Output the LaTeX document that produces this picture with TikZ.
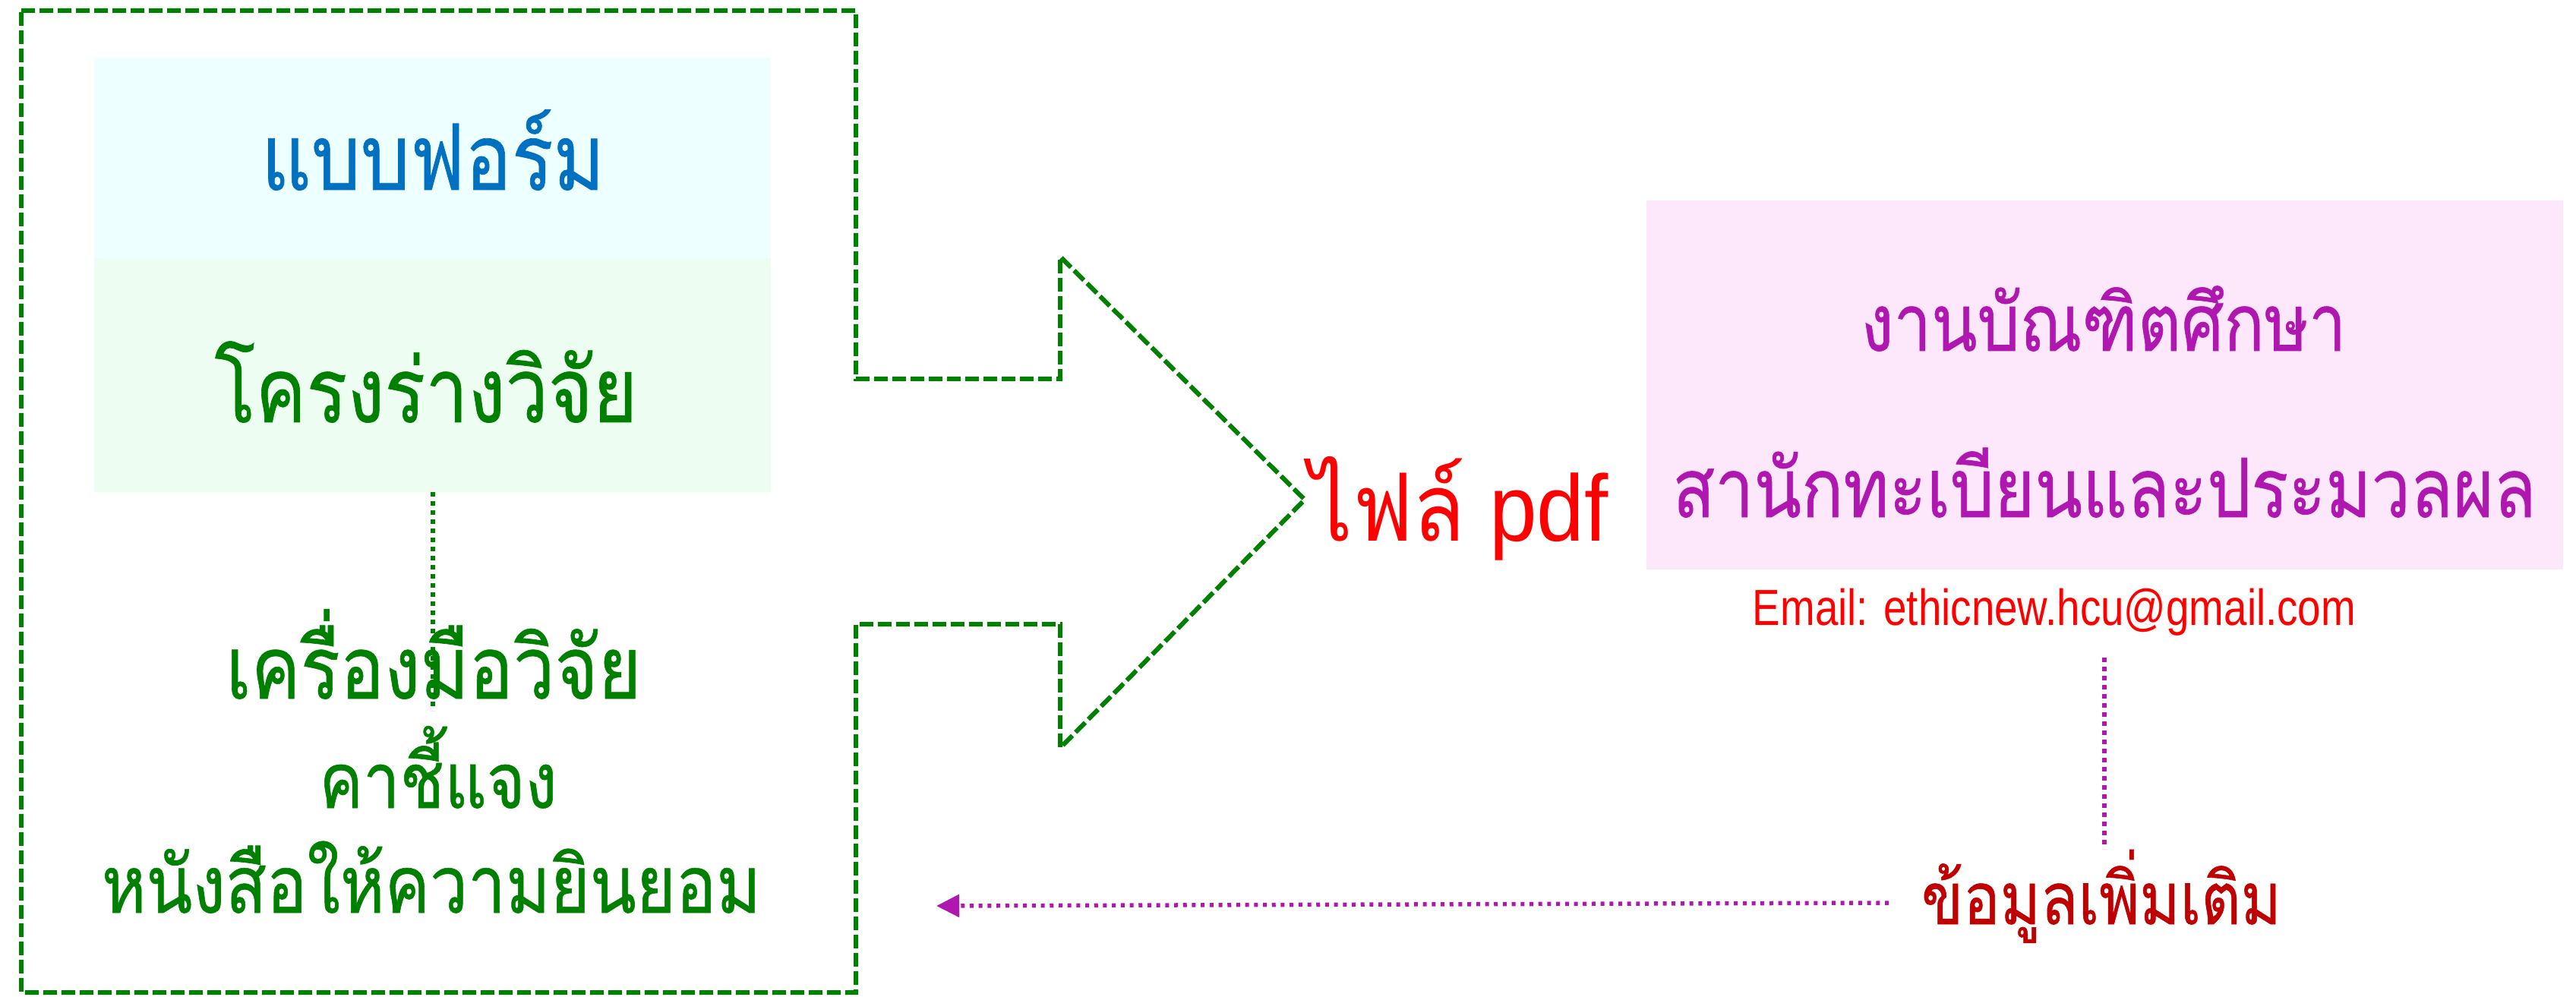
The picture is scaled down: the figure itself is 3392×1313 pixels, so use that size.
\documentclass[tikz,border=0pt]{standalone}
\usepackage{fontspec}
\setmainfont{Liberation Sans}
\newfontfamily\thai[Script=Thai, FakeBold=0.6]{Loma}
\newfontfamily\thailight[Script=Thai]{Loma}
\usetikzlibrary{arrows.meta,calc}
\definecolor{dgreen}{HTML}{008000}
\definecolor{fblue}{HTML}{0070C0}
\definecolor{cyanfill}{HTML}{EEFFFF}
\definecolor{greenfill}{HTML}{EEFDF2}
\definecolor{pinkfill}{HTML}{FDE7FB}
\definecolor{mag}{HTML}{B017B0}
\definecolor{dred}{HTML}{C00000}
\newcommand{\fitw}[2]{\scalebox{1}[1.18]{\resizebox{#1}{!}{#2}}}
\begin{document}
\begin{tikzpicture}[x=0.1mm,y=-0.1mm,
  txt/.style={inner sep=0pt, outer sep=0pt, anchor=base},
  panel/.style={inner sep=0pt, outer sep=0pt, draw=none},
  outline/.style={draw=dgreen, line width=0.6mm, dash pattern=on 1.8mm off 0.6mm},
  gdots/.style={draw=dgreen, line width=0.6mm, dash pattern=on 0.6mm off 0.6mm},
  mdots/.style={draw=mag, line width=0.6mm, dash pattern=on 0.6mm off 0.6mm},
  marrow/.style={draw=mag, line width=0.55mm, dash pattern=on 0.5mm off 0.67mm,
     -{Triangle[length=3mm,width=2.9mm,fill=mag]}}]
\useasboundingbox (0,0) rectangle (3392,1313);
% outer block arrow outline
\draw[outline] (28,14) -- (1127,14) -- (1127,499) -- (1396,499) -- (1396,338)
  -- (1718,658) -- (1396,985) -- (1396,822) -- (1127,822) -- (1127,1307)
  -- (28,1307) -- cycle;
% left panels
\node[panel, fill=cyanfill, minimum width=89.1mm, minimum height=26.4mm] (formbox) at (569.5,208) {};
\node[panel, fill=greenfill, minimum width=89.1mm, minimum height=30.8mm] (projbox) at (569.5,494) {};
\node[txt, text=fblue] (form) at (570,250) {\fitw{45.2mm}{\thai แบบฟอร์ม}};
\node[txt, text=dgreen] (proj) at (561,556) {\fitw{55.7mm}{\thai โครงร่างวิจัย}};
% dotted connector
\coordinate (dotend) at (569.5,936);
\draw[gdots] (projbox.south) -- (dotend);
\node[txt, text=dgreen] (tools) at (571,920) {\fitw{54.7mm}{\thai เครื่องมือวิจัย}};
\node[txt, text=dgreen] (expl) at (577,1064) {\fitw{31.3mm}{\thai คาชี้แจง}};
\node[txt, text=dgreen] (consent) at (568,1202) {\fitw{86.8mm}{\thai หนังสือให้ความยินยอม}};
% pdf label
\node[txt, text=red] (pdf) at (1921,712) {\scalebox{1}[1.1]{\resizebox{39.3mm}{!}{{\thailight ไฟล์} pdf}}};
% right panel
\node[panel, fill=pinkfill, minimum width=120.7mm, minimum height=48.6mm] (office) at (2771.5,507) {};
\node[txt, text=mag] (grad) at (2770,462) {\fitw{63.9mm}{\thai งานบัณฑิตศึกษา}};
\node[txt, text=mag] (reg) at (2771,681) {\fitw{113.7mm}{\thai สานักทะเบียนและประมวลผล}};
\node[txt, text=red] (email) at (2705,823) {\scalebox{0.82}[1]{\fontsize{19pt}{22pt}\selectfont Email: ethicnew.hcu@gmail.com}};
% more info
\node[txt, text=dred] (more) at (2767,1217) {\fitw{47.4mm}{\thai ข้อมูลเพิ่มเติม}};
\coordinate (vtop) at (2771,866);
\coordinate (vbot) at (2771,1118);
\draw[mdots] (vtop) -- (vbot);
\coordinate (astart) at (2487,1189);
\coordinate (aend) at (1233,1193);
\draw[marrow] (astart) -- (aend);
\end{tikzpicture}
\end{document}
